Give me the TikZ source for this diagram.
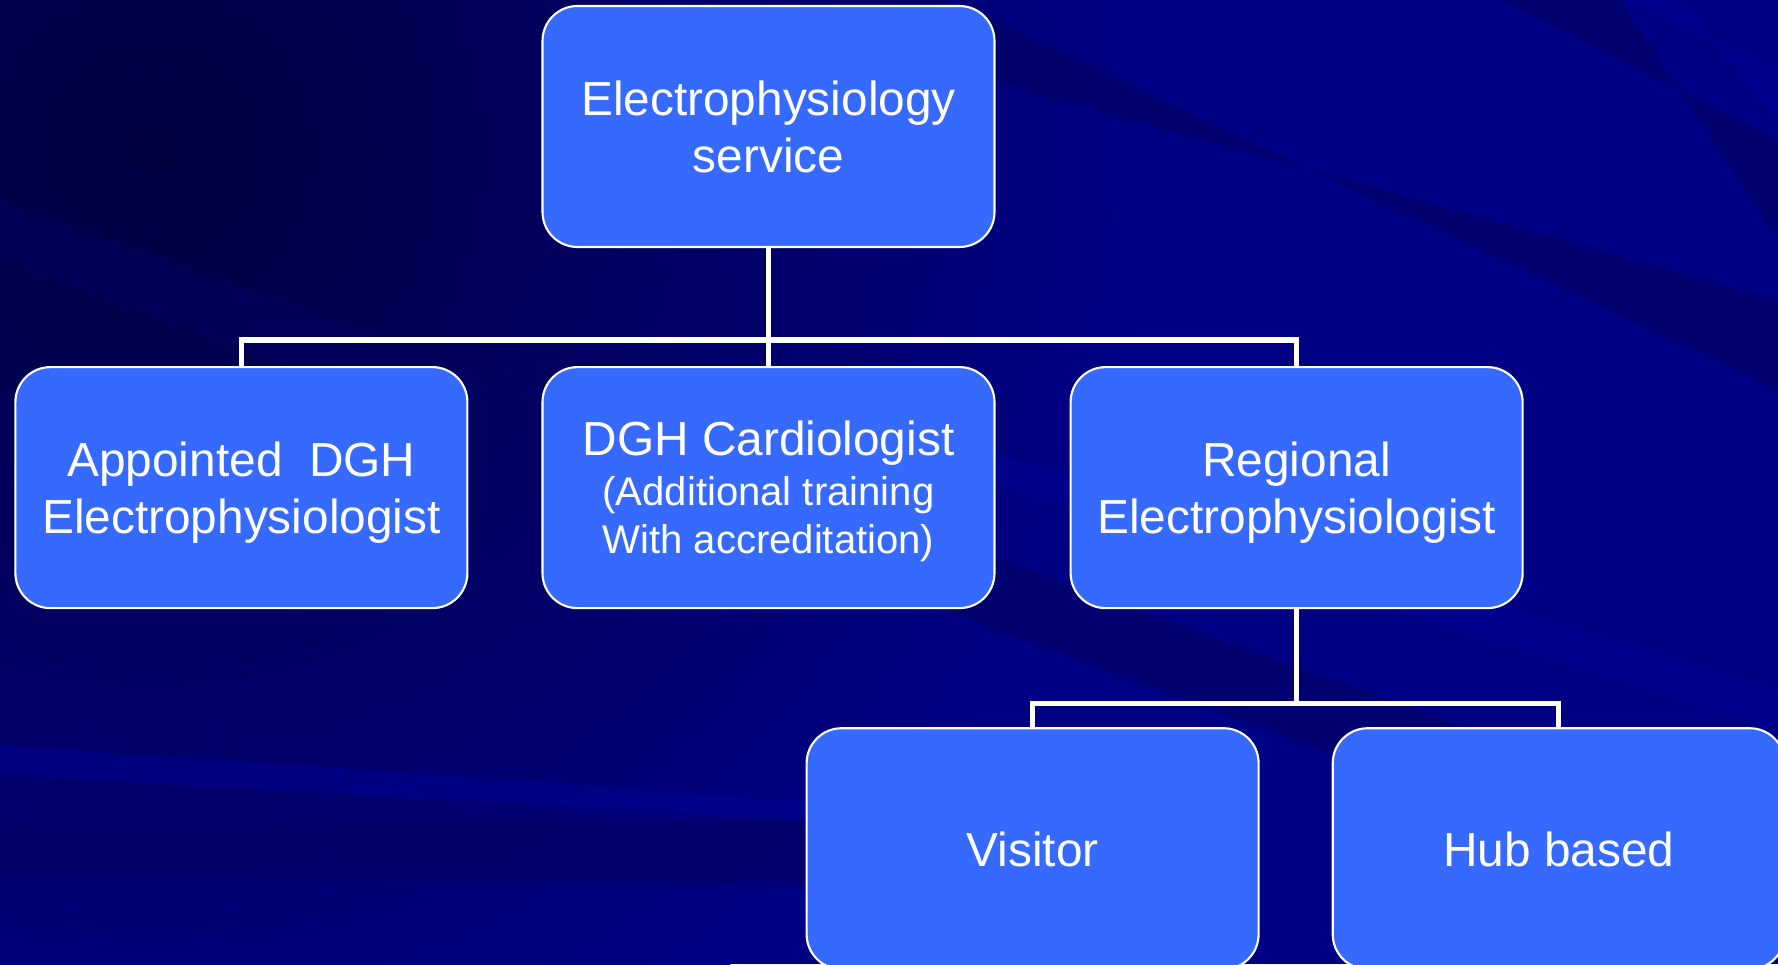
\documentclass[tikz,border=0pt]{standalone}
\usepackage{fontspec}
\setmainfont{Liberation Sans}
\usetikzlibrary{positioning}

\definecolor{boxblue}{RGB}{54,106,255}
\definecolor{navydark}{RGB}{0,0,64}
\definecolor{navybase}{RGB}{0,0,132}
\definecolor{navydeep}{RGB}{0,0,96}
\definecolor{navylight}{RGB}{0,0,150}

\newcommand{\subfont}{\fontsize{11.4}{13.7}\selectfont}

\tikzset{
  unit/.style={draw=white, line width=0.6pt, fill=boxblue, rounded corners=0.35cm,
    minimum width=4.52cm, minimum height=2.41cm, inner sep=0pt, align=center,
    text=white, text depth=0pt, font=\fontsize{13.6}{16.2}\selectfont},
  link/.style={draw=white, line width=1.5pt},
  streak/.style={fill=navydeep, opacity=0.55},
  glint/.style={fill=navylight, opacity=0.5}
}

\begin{document}
\begin{tikzpicture}
    \useasboundingbox (0,0) rectangle (17.78,-9.64);
    \clip (0,0) rectangle (17.78,-9.64);
    % backdrop: navy, darker towards the top left, with streaks
    \fill[navybase] (0,0) rectangle (17.78,-9.64);
    \shade[inner color=navydark, outer color=navybase] (1.5,-1.5) circle (10cm);
    \fill[streak] (0,-2.0) -- (0,-2.6) -- (17.78,-9.2) -- (17.78,-8.4) -- cycle;
    \fill[streak] (0,-8.2) -- (0,-8.75) -- (8.06,-8.85) -- (8.06,-8.2) -- cycle;
    \fill[glint] (0,-7.45) -- (0,-7.75) -- (8.06,-8.2) -- (8.06,-8.0) -- cycle;
    \fill[streak] (7,0) -- (9.5,0) -- (17.78,-3.9) -- (17.78,-3.0) -- cycle;
    \fill[streak] (15,0) -- (16.2,0) -- (17.78,-2.4) -- (17.78,-1.4) -- cycle;
    \fill[glint] (9.5,-4.4) -- (17.78,-6.9) -- (17.78,-7.3) -- (9.5,-4.7) -- cycle;
    \fill[glint] (16.3,0) -- (16.8,0) -- (17.78,-1.2) -- (17.78,-0.7) -- cycle;

    % Root node
    \node[unit] (service) at (7.685,-1.265) {Electrophysiology\\ service};
    % Second row
    \node[unit, below=1.18cm of service] (cardio) {DGH Cardiologist\\[-2pt]
        {\subfont (Additional training}\\[-2.5pt] {\subfont With accreditation)}};
    \node[unit, left=0.73cm of cardio] (appointed) {Appointed\ \ DGH\\ Electrophysiologist};
    \node[unit, right=0.74cm of cardio] (regional) {Regional\\ Electrophysiologist};
    % Third row
    \node[unit, below=1.18cm of regional, xshift=-2.64cm] (visitor) {Visitor};
    \node[unit, right=0.72cm of visitor] (hub) {Hub based};

    % Connectors
    \draw[link] (service.south) -- (cardio.north);
    \draw[link] (appointed.north) -- ++(0,0.26) -| (regional.north);
    \coordinate (fork) at ([yshift=0.24cm]visitor.north -| regional.south);
    \draw[link] (regional.south) -- (fork);
    \draw[link] (visitor.north) -- ++(0,0.24) -| (hub.north);
\end{tikzpicture}
\end{document}
